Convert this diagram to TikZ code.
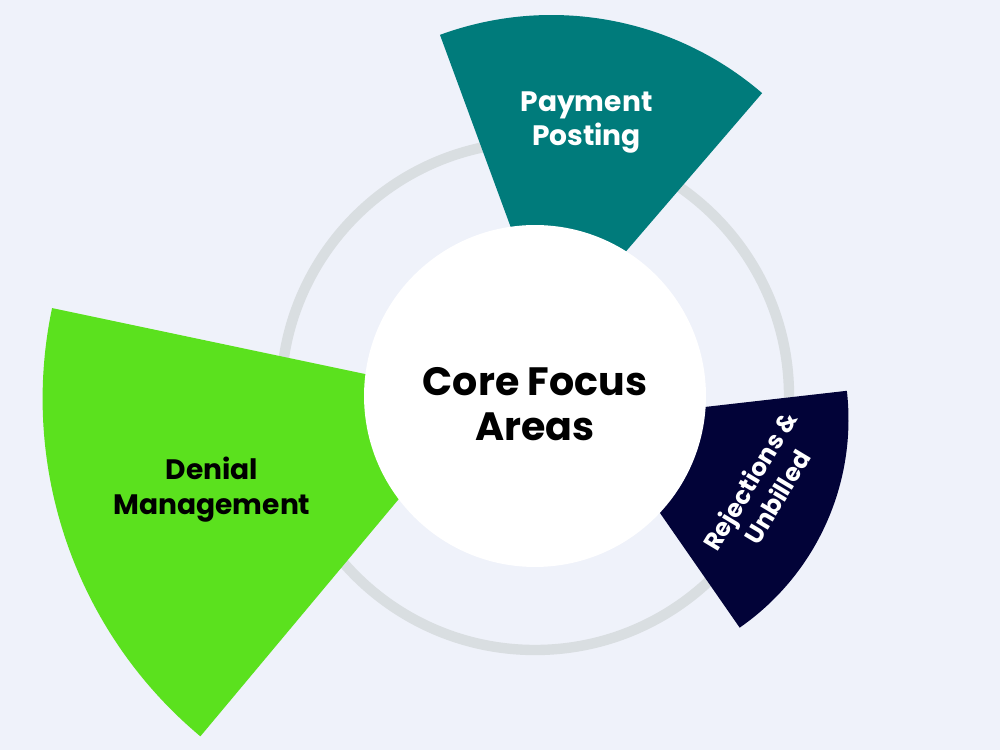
\documentclass[tikz,border=0pt]{standalone}
\usepackage{fontspec}
\setmainfont{Poppins}
\usetikzlibrary{positioning}
\definecolor{bg}{HTML}{EFF2FA}
\definecolor{ringc}{HTML}{D9DEE1}
\definecolor{tealc}{HTML}{007B7B}
\definecolor{lime}{HTML}{5BE11E}
\definecolor{navy}{HTML}{020338}

\begin{document}
\begin{tikzpicture}[x=0.02cm,y=0.02cm,
    lbl/.style={font=\bfseries\fontsize{16}{19.8}\selectfont,align=center,inner sep=0pt}]
  \useasboundingbox (0,0) rectangle (1000,750);
  % page background
  \fill[bg] (0,0) rectangle (1000,750);
  \coordinate (c) at (535,354);
  % grey ring first so the wedges sit on top
  \draw[ringc,line width=5.9pt] (c) circle[radius=254];
  % wedges, each swung from its own apex
  \coordinate (pp) at (551.5,412);
  \fill[tealc] (pp) -- ++(49.3:323) arc[start angle=49.3,end angle=110.2,radius=323] -- cycle;
  \coordinate (dm) at (482.6,351.2);
  \fill[lime] (dm) -- ++(168.1:440) arc[start angle=168.1,end angle=230.1,radius=440] -- cycle;
  \coordinate (rj) at (595,330.5);
  \fill[navy] (rj) -- ++(-55.2:253.5) arc[start angle=-55.2,end angle=6.5,radius=253.5] -- cycle;
  % white hub covers the apexes
  \node[circle,fill=white,inner sep=0pt,minimum size=6.84cm] (hub) at (c) {};
  \node[font=\bfseries\fontsize{22.5}{25.5}\selectfont,align=center,inner sep=0pt,anchor=north]
    (core) at (535,383) {Core Focus\\Areas};
  \node[lbl,white,anchor=north] (pay) at (586.5,659) {Payment\\Posting};
  \node[lbl,anchor=north] (den) at (212,293) {Denial\\Management};
  \node[lbl,white,font=\bfseries\fontsize{14}{18}\selectfont,rotate=59] (rej) at (763,261) {Rejections \&\\Unbilled};
\end{tikzpicture}
\end{document}
